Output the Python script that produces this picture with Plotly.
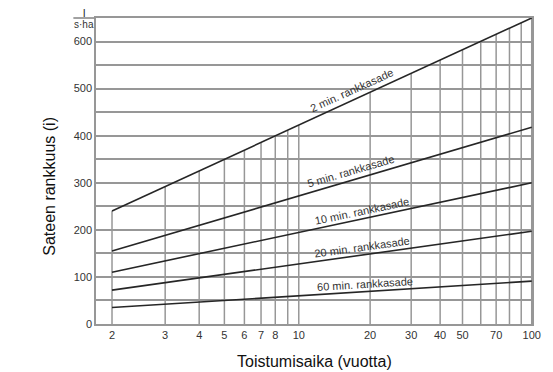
import numpy as np
import plotly.graph_objects as go

# ---- data ----
return_periods = [2, 100]           # years (toistumisaika)
rain_2min = [240, 650]
rain_5min = [155, 418]
rain_10min = [110, 300]
rain_20min = [72, 197]
rain_60min = [35, 91]
series_names = ["2 min. rankkasade", "5 min. rankkasade", "10 min. rankkasade",
                "20 min. rankkasade", "60 min. rankkasade"]
series_values = [rain_2min, rain_5min, rain_10min, rain_20min, rain_60min]

grid_periods = [2, 3, 4, 5, 6, 7, 8, 9, 10, 20, 30, 40, 50, 60, 70, 80, 90, 100]
tick_periods = [2, 3, 4, 5, 6, 7, 8, 10, 20, 30, 40, 50, 70, 100]
tick_labels = [str(t) for t in tick_periods]
y_tick_vals = [0, 100, 200, 300, 400, 500, 600]


def gumbel(T):
    T = np.asarray(T, dtype=float)
    return -np.log(-np.log(1.0 - 1.0 / T))


# ---- layout constants ----
W, H = 553, 372
ML, MR, MT, MB = 96, 14, 18, 48
PW, PH = W - ML - MR, H - MT - MB
XR = [0.205, 4.603]
YR = [0, 650]
px_per_u = PW / (XR[1] - XR[0])
px_per_y = PH / (YR[1] - YR[0])

FONT = "Arial, Liberation Sans, Helvetica, sans-serif"
GRID = "#979797"
LINE = "#262626"

u_rp = gumbel(return_periods)

fig = go.Figure()

# vertical grid lines only up to the 2-min line
shapes = []
for T in grid_periods:
    u = float(gumbel(T))
    ytop = float(np.interp(u, u_rp, rain_2min))
    shapes.append(dict(type="line", xref="x", yref="y", x0=u, x1=u, y0=0, y1=ytop,
                       line=dict(color=GRID, width=1.5), layer="below"))

for name, vals in zip(series_names, series_values):
    fig.add_trace(go.Scatter(x=u_rp, y=vals, mode="lines", name=name,
                             line=dict(color=LINE, width=1.6), hoverinfo="skip",
                             showlegend=False))

# line labels, rotated along each line
label_T = [16.8, 16.6, 18.5, 18.5, 19.0]
label_shift = [10, 9, 8, 8, 8]
annotations = []
for name, vals, lt, sh in zip(series_names, series_values, label_T, label_shift):
    u = float(gumbel(lt))
    yv = float(np.interp(u, u_rp, vals))
    slope = (vals[1] - vals[0]) / (u_rp[1] - u_rp[0])
    ang = -np.degrees(np.arctan(slope * px_per_y / px_per_u))
    annotations.append(dict(x=u, y=yv, xref="x", yref="y", text=name, showarrow=False,
                            textangle=ang, yshift=sh, xanchor="center", yanchor="middle",
                            font=dict(family=FONT, size=11, color="#333333")))

# axis titles
annotations.append(dict(xref="paper", yref="paper", x=0.5, y=-(361 - MT - PH) / PH,
                        text="Toistumisaika (vuotta)", showarrow=False,
                        xanchor="center", yanchor="middle",
                        font=dict(family=FONT, size=16, color="#111111")))
annotations.append(dict(xref="paper", yref="paper", x=(48 - ML) / PW, y=1 - (186 - MT) / PH,
                        text="Sateen rankkuus (i)", showarrow=False, textangle=-90,
                        xanchor="center", yanchor="middle",
                        font=dict(family=FONT, size=16, color="#111111")))

# unit label l / (s·ha)
ux = (83.5 - ML) / PW
annotations.append(dict(xref="paper", yref="paper", x=ux, y=1, text="l", showarrow=False,
                        xanchor="center", yanchor="bottom", yshift=-3,
                        font=dict(family=FONT, size=11, color="#222222")))
annotations.append(dict(xref="paper", yref="paper", x=ux, y=1, text="s·ha", showarrow=False,
                        xanchor="center", yanchor="top", yshift=1,
                        font=dict(family=FONT, size=10, color="#333333")))
shapes.append(dict(type="line", xref="paper", yref="paper", x0=(73 - ML) / PW, x1=(94 - ML) / PW,
                   y0=1.0, y1=1.0, line=dict(color="#444444", width=1)))

fig.update_layout(
    width=W, height=H,
    margin=dict(l=ML, r=MR, t=MT, b=MB),
    paper_bgcolor="white", plot_bgcolor="white",
    shapes=shapes, annotations=annotations,
    xaxis=dict(range=XR, tickvals=[float(v) for v in gumbel(tick_periods)], ticktext=tick_labels,
               showgrid=False, zeroline=False, showline=True, mirror=True,
               linecolor=GRID, linewidth=1.5, ticks="",
               tickfont=dict(family=FONT, size=11, color="#333333")),
    yaxis=dict(range=YR, tickvals=y_tick_vals, showgrid=True, gridcolor=GRID, gridwidth=1.5,
               minor=dict(dtick=50, showgrid=True, gridcolor=GRID, gridwidth=1.5),
               zeroline=False, showline=True, mirror=True, linecolor=GRID, linewidth=1.5,
               ticks="", tickfont=dict(family=FONT, size=11, color="#333333")),
)

fig.write_html("out.html", config={"displayModeBar": False},
               post_script="document.body.style.margin='0';document.body.style.padding='0';")
